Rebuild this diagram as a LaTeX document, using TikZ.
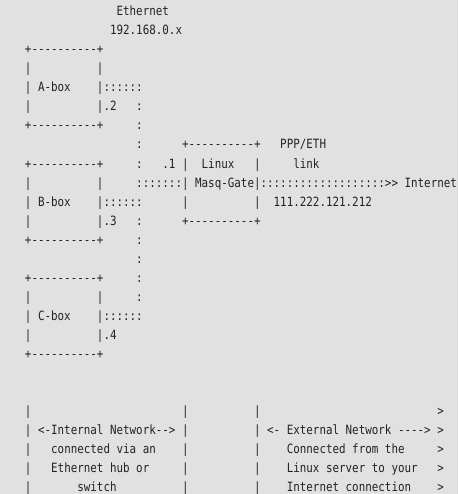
\documentclass[tikz,border=0pt]{standalone}
\usepackage{fontspec}
\setmonofont[FakeStretch=0.852]{DejaVu Sans Mono}
\definecolor{bg}{HTML}{E1E1E1}
\definecolor{ink}{HTML}{222222}
\tikzset{
  chars/.style={font=\ttfamily\fontsize{12.76}{19}\selectfont, text=ink,
    anchor=base west, inner sep=0pt, outer sep=0pt}
}
\newcommand\cx[1]{\the\numexpr#1\relax*\cw-1.2}
\newcommand\ry[1]{16+\the\numexpr#1\relax*\lh}
\begin{document}
\begin{tikzpicture}[x=1pt,y=-1pt]
  \def\cw{6.545}
  \def\lh{19}
  \fill[bg] (0,0) rectangle (458,494);
  \useasboundingbox (0,0) rectangle (458,494);

  \node[chars] (eth) at (\cx{18},\ry{0}) {Ethernet};
  \node[chars] (net) at (\cx{17},\ry{1}) {192.168.0.x};

  % the three boxes on the hub
  \foreach \nm/\rw/\lab/\ip in {abox/2/A-box/.2, bbox/8/B-box/.3, cbox/14/C-box/.4}{
    \node[chars] (\nm-top) at (\cx{4},\ry{\rw}) {+----------+};
    \node[chars] (\nm-bot) at (\cx{4},\ry{\rw+4}) {+----------+};
    \foreach \j in {1,2,3}{
      \node[chars] (\nm-l\j) at (\cx{4},\ry{\rw+\j}) {|};
      \node[chars] (\nm-r\j) at (\cx{15},\ry{\rw+\j}) {|};
    }
    \node[chars] (\nm-lab) at (\cx{6},\ry{\rw+2}) {\lab};
    \node[chars] (\nm-tap) at (\cx{16},\ry{\rw+2}) {::::::};
    \node[chars] (\nm-ip) at (\cx{16},\ry{\rw+3}) {\ip};
  }

  % hub
  \foreach \rw in {5,6,7,8,11,12,13,14,15}
    \node[chars] (hub\rw) at (\cx{21},\ry{\rw}) {:};
  \node[chars] (hubtap) at (\cx{21},\ry{9}) {:::::::};

  % gateway
  \node[chars] (gw-top) at (\cx{28},\ry{7}) {+----------+};
  \node[chars] (gw-bot) at (\cx{28},\ry{11}) {+----------+};
  \foreach \rw in {8,9,10}{
    \node[chars] (gw-l\rw) at (\cx{28},\ry{\rw}) {|};
    \node[chars] (gw-r\rw) at (\cx{39},\ry{\rw}) {|};
  }
  \node[chars] (gw-ip) at (\cx{25},\ry{8}) {.1};
  \node[chars] (gw-lab1) at (\cx{31},\ry{8}) {Linux};
  \node[chars] (gw-lab2) at (\cx{30},\ry{9}) {Masq-Gate};

  \node[chars] (ppp) at (\cx{43},\ry{7}) {PPP/ETH};
  \node[chars] (link) at (\cx{45},\ry{8}) {link};
  \node[chars] (uplink) at (\cx{40},\ry{9}) {:::::::::::::::::::>>};
  \node[chars] (inet) at (\cx{62},\ry{9}) {Internet};
  \node[chars] (extip) at (\cx{42},\ry{10}) {111.222.121.212};

  % legend
  \foreach \rw in {21,...,25}{
    \node[chars] (sep-a\rw) at (\cx{4},\ry{\rw}) {|};
    \node[chars] (sep-b\rw) at (\cx{28},\ry{\rw}) {|};
    \node[chars] (sep-c\rw) at (\cx{39},\ry{\rw}) {|};
    \node[chars] (sep-d\rw) at (\cx{67},\ry{\rw}) {>};
  }
  \node[chars] (int1) at (\cx{6},\ry{22}) {<-Internal Network-->};
  \node[chars] (int2) at (\cx{8},\ry{23}) {connected via an};
  \node[chars] (int3) at (\cx{8},\ry{24}) {Ethernet hub or};
  \node[chars] (int4) at (\cx{12},\ry{25}) {switch};
  \node[chars] (ext1) at (\cx{41},\ry{22}) {<- External Network ---->};
  \node[chars] (ext2) at (\cx{44},\ry{23}) {Connected from the};
  \node[chars] (ext3) at (\cx{44},\ry{24}) {Linux server to your};
  \node[chars] (ext4) at (\cx{44},\ry{25}) {Internet connection};
\end{tikzpicture}
\end{document}
